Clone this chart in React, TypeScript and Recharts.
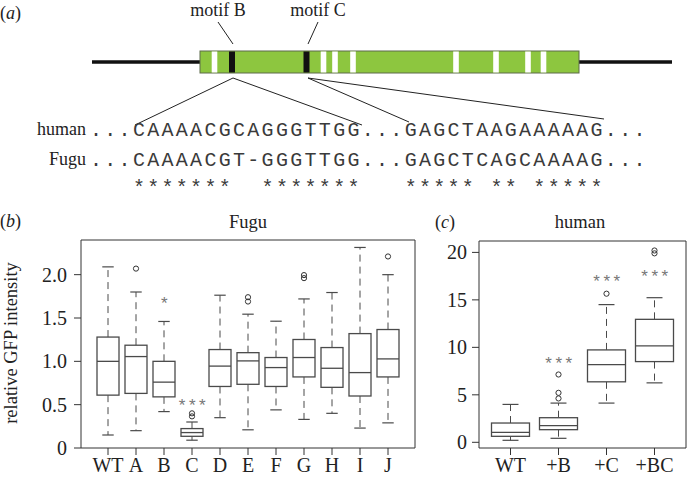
import React from "react";
import { ComposedChart, Bar, XAxis, YAxis } from "recharts";

// panel (b): Fugu motif mutants
const fuguCats = ["WT", "A", "B", "C", "D", "E", "F", "G", "H", "I", "J"];
const fuguMin = [0.15, 0.2, 0.42, 0.09, 0.35, 0.21, 0.44, 0.33, 0.4, 0.23, 0.29];
const fuguQ1 = [0.61, 0.63, 0.59, 0.135, 0.71, 0.735, 0.71, 0.82, 0.7, 0.6, 0.82];
const fuguMed = [1.0, 1.055, 0.76, 0.178, 0.945, 1.005, 0.928, 1.044, 0.92, 0.87, 1.028];
const fuguQ3 = [1.28, 1.186, 1.0, 0.224, 1.136, 1.1, 1.044, 1.252, 1.159, 1.32, 1.367];
const fuguMax = [2.09, 1.8, 1.46, 0.3, 1.763, 1.544, 1.463, 1.72, 1.794, 2.314, 2.0];
const fuguOutliers = [[], [2.07], [], [0.365, 0.4], [], [1.69, 1.74], [], [1.96, 1.995], [], [], [2.21]];
const fuguStars = ["", "", "*", "***", "", "", "", "", "", "", ""];
const fuguStarAt = [0, 0, 1.72, 0.543, 0, 0, 0, 0, 0, 0, 0];
const fuguTicks = [0, 0.5, 1, 1.5, 2];

// panel (c): human motif additions
const humanCats = ["WT", "+B", "+C", "+BC"];
const humanMin = [0.21, 0.42, 4.13, 6.26];
const humanQ1 = [0.63, 1.33, 6.37, 8.5];
const humanMed = [1.05, 1.75, 8.19, 10.15];
const humanQ3 = [2.03, 2.59, 9.73, 12.95];
const humanMax = [3.99, 4.13, 14.5, 15.23];
const humanOutliers = [[], [4.62, 5.21, 7.14], [15.65], [19.9, 20.2]];
const humanStars = ["", "***", "***", "***"];
const humanStarAt = [0, 8.82, 17.4, 17.92];
const humanTicks = [0, 5, 10, 15, 20];

// panel (a): alignment text
const humanSeq = "...CAAAACGCAGGGTTGG...GAGCTAAGAAAAAG...";
const fuguSeq = "...CAAAACGT-GGGTTGG...GAGCTCAGCAAAAG...";
const starRow = "   *******  *******   ***** ** *****";
// stripes along the gene body (px)
const whiteStripes = [214.5, 323.5, 335, 353, 456, 496, 528, 543.5];
const blackStripes = [232, 306.5];

const build = (cats, mn, q1, md, q3, mx, out, st, stAt) =>
  cats.map((cat, i) => ({
    cat, lo: mn[i], q1: q1[i], med: md[i], q3: q3[i], hi: mx[i],
    out: out[i], star: st[i], starAt: stAt[i],
  }));

const fuguData = build(fuguCats, fuguMin, fuguQ1, fuguMed, fuguQ3, fuguMax, fuguOutliers, fuguStars, fuguStarAt);
const humanData = build(humanCats, humanMin, humanQ1, humanMed, humanQ3, humanMax, humanOutliers, humanStars, humanStarAt);

const serif = "'Liberation Serif', 'Times New Roman', serif";
const boxColor = "#4a4a4a";

const makeBox = (capRatio: number) => (props: any) => {
  const { x, y, width, height, payload } = props;
  const top = Math.min(y, y + height);
  const bot = Math.max(y, y + height);
  const { lo, hi } = payload;
  // linear mapping derived from the bar's [lo, hi] pixel span
  const py = (v: number) => top + ((hi - v) / (hi - lo)) * (bot - top);
  const cx = x + width / 2;
  const cw = (width * capRatio) / 2;
  return (
    <g>
      <line x1={cx} x2={cx} y1={py(payload.q3)} y2={py(hi)} stroke={boxColor} strokeDasharray="7 5" />
      <line x1={cx} x2={cx} y1={py(payload.q1)} y2={py(lo)} stroke={boxColor} strokeDasharray="7 5" />
      <line x1={cx - cw} x2={cx + cw} y1={py(hi)} y2={py(hi)} stroke={boxColor} strokeWidth={1.2} />
      <line x1={cx - cw} x2={cx + cw} y1={py(lo)} y2={py(lo)} stroke={boxColor} strokeWidth={1.2} />
      <rect x={x} y={py(payload.q3)} width={width} height={py(payload.q1) - py(payload.q3)}
        fill="#fff" stroke={boxColor} strokeWidth={1.3} />
      <line x1={x} x2={x + width} y1={py(payload.med)} y2={py(payload.med)} stroke={boxColor} strokeWidth={1.3} />
      {payload.out.map((v: number, k: number) => (
        <circle key={k} cx={cx} cy={py(v)} r={2.6} fill="none" stroke="#333" strokeWidth={1} />
      ))}
      {payload.star && (
        <text x={cx + 2} y={py(payload.starAt) + 10} textAnchor="middle" fill="#777"
          fontFamily="'Liberation Sans', sans-serif" fontSize={17} letterSpacing={3.5}>
          {payload.star}
        </text>
      )}
    </g>
  );
};

const tickStyle = { fontFamily: serif, fontSize: 20, fill: "#222" };
const axisStroke = { stroke: "#333" };

const Panel = ({ data, width, height, yWidth, pad, domain, ticks, fmt, barSize, capRatio, marginTop, marginRight, tickMargin }) => (
  <ComposedChart width={width} height={height} data={data}
    margin={{ top: marginTop, right: marginRight, bottom: 0, left: 0 }}>
    <XAxis dataKey="cat" type="category" interval={0} padding={{ left: pad, right: pad }}
      tickSize={7} tickMargin={3} tick={tickStyle} axisLine={axisStroke} tickLine={axisStroke} height={30} />
    <XAxis xAxisId="top" dataKey="cat" orientation="top" height={1} tick={false} tickLine={false} axisLine={axisStroke} />
    <YAxis type="number" domain={domain} ticks={ticks} tickFormatter={fmt} interval={0}
      tickSize={7} tickMargin={tickMargin} tick={tickStyle} axisLine={axisStroke} tickLine={axisStroke} width={yWidth} />
    <YAxis yAxisId="right" orientation="right" width={1} tick={false} tickLine={false} axisLine={axisStroke} />
    <Bar dataKey={(d: any) => [d.lo, d.hi]} barSize={barSize} shape={makeBox(capRatio)} isAnimationActive={false} />
  </ComposedChart>
);

const nb = (s: string) => s.replace(/ /g, "\u00A0");

export default function App() {
  const mono = "'Liberation Mono', 'Courier New', monospace";
  return (
    <div style={{ position: "absolute", left: 0, top: 0, width: 687, height: 478, background: "#fff", overflow: "hidden" }}>
      <div style={{ position: "absolute", left: 0, top: 200 }}>
        <Panel data={fuguData} width={420} height={278} yWidth={81} pad={13} domain={[0, 2.4]} ticks={fuguTicks}
          fmt={(v: number) => (v === 0 ? "0" : v.toFixed(1))} barSize={22} capRatio={0.52}
          marginTop={39} marginRight={4} tickMargin={7} />
      </div>
      <div style={{ position: "absolute", left: 420, top: 200 }}>
        <Panel data={humanData} width={267} height={278} yWidth={59} pad={7.5} domain={[-0.6, 21.2]} ticks={humanTicks}
          fmt={(v: number) => String(v)} barSize={38} capRatio={0.42}
          marginTop={40} marginRight={0} tickMargin={5} />
      </div>
      <svg width={687} height={478} style={{ position: "absolute", left: 0, top: 0, pointerEvents: "none" }}>
        {/* panel (a) schematic */}
        <text x={0} y={19} fontFamily={serif} fontSize={18} fill="#222">(<tspan fontStyle="italic">a</tspan>)</text>
        <line x1={92} x2={200} y1={62} y2={62} stroke="#111" strokeWidth={3.5} />
        <line x1={579} x2={672} y1={62} y2={62} stroke="#111" strokeWidth={3.5} />
        <rect x={200} y={51} width={379} height={22} fill="#8dc63f" stroke="#5d6b4a" strokeWidth={1} />
        {whiteStripes.map((c, i) => (
          <rect key={"w" + i} x={c - 2.8} y={51.5} width={5.6} height={21} fill="#fff" />
        ))}
        {blackStripes.map((c, i) => (
          <rect key={"b" + i} x={c - 3} y={51.5} width={6} height={21} fill="#111" />
        ))}
        <text x={218} y={16} textAnchor="middle" fontFamily={serif} fontSize={18} fill="#222">motif B</text>
        <text x={318} y={16} textAnchor="middle" fontFamily={serif} fontSize={18} fill="#222">motif C</text>
        <g stroke="#222" strokeWidth={1}>
          <line x1={218} y1={22} x2={233} y2={44} />
          <line x1={318} y1={22} x2={308} y2={44} />
          <line x1={233} y1={78} x2={135} y2={125} />
          <line x1={233} y1={78} x2={362} y2={125} />
          <line x1={308} y1={78} x2={409} y2={122} />
          <line x1={308} y1={78} x2={604} y2={119} />
        </g>
        <text x={86} y={135} textAnchor="end" fontFamily={serif} fontSize={18} fill="#222">human</text>
        <text x={86} y={165} textAnchor="end" fontFamily={serif} fontSize={18} fill="#222">Fugu</text>
        <text x={90} y={136} fontFamily={mono} fontSize={20} letterSpacing={2.3} fill="#3a3a3a">{humanSeq}</text>
        <text x={90} y={166} fontFamily={mono} fontSize={20} letterSpacing={2.3} fill="#3a3a3a">{fuguSeq}</text>
        <text x={90} y={194} fontFamily={mono} fontSize={20} letterSpacing={2.3} fill="#3a3a3a">{nb(starRow)}</text>

        {/* panel labels and titles */}
        <text x={0} y={227} fontFamily={serif} fontSize={18} fill="#222">(<tspan fontStyle="italic">b</tspan>)</text>
        <text x={435} y={228} fontFamily={serif} fontSize={18} fill="#222">(<tspan fontStyle="italic">c</tspan>)</text>
        <text x={248} y={228} textAnchor="middle" fontFamily={serif} fontSize={18.5} fill="#222">Fugu</text>
        <text x={580} y={228} textAnchor="middle" fontFamily={serif} fontSize={18.5} fill="#222">human</text>
        <text transform="translate(17,343) rotate(-90)" textAnchor="middle" fontFamily={serif} fontSize={18.5} fill="#222">
          relative GFP intensity
        </text>
      </svg>
    </div>
  );
}
